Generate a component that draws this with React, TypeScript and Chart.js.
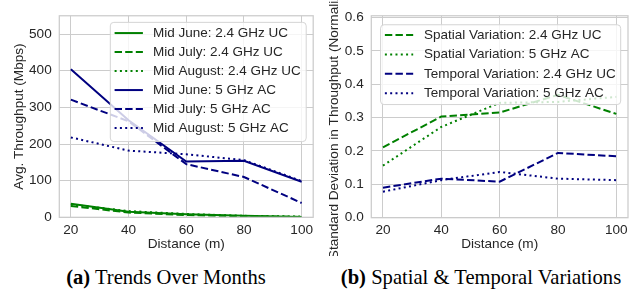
import React, { useEffect, useRef } from 'react';
import { Chart, registerables } from 'chart.js';

Chart.register(...registerables);

// ---------- data ----------
const distances = [20, 40, 60, 80, 100];
const xTicks = [20, 40, 60, 80, 100];
const leftYTicks = [0, 100, 200, 300, 400, 500];
const rightYTicks = [0, 0.1, 0.2, 0.3, 0.4, 0.5, 0.6];

const juneUC = [37, 15, 8, 4, 1];
const julyUC = [31, 13, 6, 3, 1];
const augustUC = [35, 17, 9, 4, 2];
const juneAC = [404, 265, 152, 154, 97];
const julyAC = [321, 262, 145, 110, 39];
const augustAC = [218, 182, 172, 156, 99];

const spatialUC = [0.211, 0.303, 0.315, 0.368, 0.311];
const spatialAC = [0.156, 0.272, 0.344, 0.347, 0.362];
const temporalUC = [0.09, 0.117, 0.108, 0.194, 0.184];
const temporalAC = [0.078, 0.1125, 0.137, 0.117, 0.1125];

const leftLabels = [
  'Mid June: 2.4 GHz UC',
  'Mid July: 2.4 GHz UC',
  'Mid August: 2.4 GHz UC',
  'Mid June: 5 GHz AC',
  'Mid July: 5 GHz AC',
  'Mid August: 5 GHz AC',
];
const rightLabels = [
  'Spatial Variation: 2.4 GHz UC',
  'Spatial Variation: 5 GHz AC',
  'Temporal Variation: 2.4 GHz UC',
  'Temporal Variation: 5 GHz AC',
];

// ---------- styles ----------
const GREEN = '#008000';
const NAVY = '#000080';
const SOLID: number[] = [];
const DASHED = [7.4, 3.2];
const DOTTED = [2, 3.3];
const FAMILY = '"Liberation Sans", Arial, sans-serif';
const TEXT = '#262626';
const GRID = '#cccccc';
const FS = 13.6;

type Item = { label: string; color: string; dash: number[] };

function makeDataset(label: string, values: number[], color: string, dash: number[]) {
  return {
    label,
    data: distances.map((x, i) => ({ x, y: values[i] })),
    borderColor: color,
    backgroundColor: color,
    borderWidth: 2,
    borderDash: dash,
    borderCapStyle: 'butt' as const,
    pointRadius: 0,
    tension: 0,
    fill: false,
  };
}

type Geom = {
  padTop: number;
  padRight: number;
  yWidth: number;
  xHeight: number;
  yTitlePad: number;
  legendTop: number;
  legendRight: number;
  legPadT: number;
  legPadB: number;
  legPadL: number;
  legHandle: number;
  legGap: number;
  legPadR: number;
  legRow: number;
  legFont: number;
};

function framePlugin(items: Item[], g: Geom) {
  return {
    id: 'frameLegend',
    afterDatasetsDraw(chart: any) {
      const { ctx, chartArea } = chart;
      ctx.save();
      ctx.strokeStyle = GRID;
      ctx.lineWidth = 1.25;
      ctx.setLineDash([]);
      ctx.strokeRect(
        chartArea.left,
        chartArea.top,
        chartArea.right - chartArea.left,
        chartArea.bottom - chartArea.top
      );
      // legend
      ctx.font = `${g.legFont}px ${FAMILY}`;
      const textW = Math.max(...items.map((it) => ctx.measureText(it.label).width));
      const w = g.legPadL + g.legHandle + g.legGap + textW + g.legPadR;
      const h = g.legPadT + (items.length - 1) * g.legRow + g.legPadB;
      const x0 = chartArea.right - g.legendRight - w;
      const y0 = chartArea.top + g.legendTop;
      ctx.beginPath();
      if ((ctx as any).roundRect) (ctx as any).roundRect(x0, y0, w, h, 3.5);
      else ctx.rect(x0, y0, w, h);
      ctx.fillStyle = 'rgba(255,255,255,0.8)';
      ctx.fill();
      ctx.strokeStyle = '#d4d4d4';
      ctx.lineWidth = 1;
      ctx.stroke();
      items.forEach((it, i) => {
        const cy = y0 + g.legPadT + i * g.legRow;
        ctx.beginPath();
        ctx.strokeStyle = it.color;
        ctx.lineWidth = 2;
        ctx.lineCap = 'butt';
        ctx.setLineDash(it.dash);
        ctx.moveTo(x0 + g.legPadL, cy);
        ctx.lineTo(x0 + g.legPadL + g.legHandle, cy);
        ctx.stroke();
        ctx.setLineDash([]);
        ctx.fillStyle = TEXT;
        ctx.textBaseline = 'middle';
        ctx.textAlign = 'left';
        ctx.fillText(it.label, x0 + g.legPadL + g.legHandle + g.legGap, cy);
      });
      ctx.restore();
    },
  };
}

function makeConfig(
  datasets: any[],
  items: Item[],
  yMax: number,
  yTicks: number[],
  yTitle: string,
  fmt: (v: number) => string,
  g: Geom
): any {
  return {
    type: 'line',
    data: { datasets },
    options: {
      animation: false,
      responsive: false,
      maintainAspectRatio: false,
      layout: { padding: { top: g.padTop, right: g.padRight, bottom: 0, left: 0 } },
      plugins: { legend: { display: false }, tooltip: { enabled: false } },
      scales: {
        x: {
          type: 'linear',
          min: 16,
          max: 104,
          afterBuildTicks: (axis: any) => {
            axis.ticks = xTicks.map((v) => ({ value: v }));
          },
          afterFit: (s: any) => {
            s.height = g.xHeight;
          },
          grid: { color: GRID, lineWidth: 1, drawTicks: false },
          border: { display: false },
          ticks: {
            color: TEXT,
            font: { family: FAMILY, size: FS },
            padding: 4.6,
            maxRotation: 0,
            autoSkip: false,
            callback: (v: any) => String(v),
          },
          title: {
            display: true,
            text: 'Distance (m)',
            color: TEXT,
            font: { family: FAMILY, size: FS },
            padding: { top: 0, bottom: 3.6 },
          },
        },
        y: {
          type: 'linear',
          min: 0,
          max: yMax,
          afterBuildTicks: (axis: any) => {
            axis.ticks = yTicks.map((v) => ({ value: v }));
          },
          afterFit: (s: any) => {
            s.width = g.yWidth;
          },
          grid: { color: GRID, lineWidth: 1, drawTicks: false },
          border: { display: false },
          ticks: {
            color: TEXT,
            font: { family: FAMILY, size: FS },
            padding: 7.6,
            autoSkip: false,
            callback: (v: any) => fmt(Number(v)),
          },
          title: {
            display: true,
            text: yTitle,
            color: TEXT,
            font: { family: FAMILY, size: FS },
            padding: { top: g.yTitlePad, bottom: 0 },
          },
        },
      },
    },
    plugins: [framePlugin(items, g)],
  };
}

const leftItems: Item[] = [
  { label: leftLabels[0], color: GREEN, dash: SOLID },
  { label: leftLabels[1], color: GREEN, dash: DASHED },
  { label: leftLabels[2], color: GREEN, dash: DOTTED },
  { label: leftLabels[3], color: NAVY, dash: SOLID },
  { label: leftLabels[4], color: NAVY, dash: DASHED },
  { label: leftLabels[5], color: NAVY, dash: DOTTED },
];
const leftSeries = [juneUC, julyUC, augustUC, juneAC, julyAC, augustAC];

const rightItems: Item[] = [
  { label: rightLabels[0], color: GREEN, dash: DASHED },
  { label: rightLabels[1], color: GREEN, dash: DOTTED },
  { label: rightLabels[2], color: NAVY, dash: DASHED },
  { label: rightLabels[3], color: NAVY, dash: DOTTED },
];
const rightSeries = [spatialUC, spatialAC, temporalUC, temporalAC];

const leftGeom: Geom = {
  padTop: 6.7,
  padRight: 6.8,
  yWidth: 59.3,
  xHeight: 38.7,
  yTitlePad: 11.5,
  legendTop: 6.6,
  legendRight: 7,
  legPadT: 10.7,
  legPadB: 13.5,
  legPadL: 4.3,
  legHandle: 28.3,
  legGap: 10,
  legPadR: 5.5,
  legRow: 19,
  legFont: 13.5,
};
const rightGeom: Geom = {
  padTop: 10,
  padRight: 13,
  yWidth: 51.3,
  xHeight: 38.3,
  yTitlePad: 6.5,
  legendTop: 9,
  legendRight: 7.3,
  legPadT: 10.3,
  legPadB: 11.3,
  legPadL: 4.3,
  legHandle: 28.3,
  legGap: 10.7,
  legPadR: 5,
  legRow: 19.4,
  legFont: 13.5,
};

function ChartCanvas(props: { config: () => any; left: number; width: number; height: number }) {
  const ref = useRef<HTMLCanvasElement | null>(null);
  useEffect(() => {
    if (!ref.current) return;
    const chart = new Chart(ref.current, props.config());
    return () => chart.destroy();
  }, []);
  return (
    <canvas
      ref={ref}
      width={props.width}
      height={props.height}
      style={{
        position: 'absolute',
        left: props.left,
        top: 0,
        width: props.width,
        height: props.height,
      }}
    />
  );
}

const captionStyle: React.CSSProperties = {
  position: 'absolute',
  top: 267,
  fontFamily: '"Liberation Serif", "Times New Roman", serif',
  fontSize: 20.6,
  lineHeight: '20px',
  color: '#000',
  textAlign: 'center',
  whiteSpace: 'nowrap',
};

export default function App() {
  const leftConfig = () =>
    makeConfig(
      leftItems.map((it, i) => makeDataset(it.label, leftSeries[i], it.color, it.dash)),
      leftItems,
      550,
      leftYTicks,
      'Avg. Throughput (Mbps)',
      (v) => String(Math.round(v)),
      leftGeom
    );
  const rightConfig = () =>
    makeConfig(
      rightItems.map((it, i) => makeDataset(it.label, rightSeries[i], it.color, it.dash)),
      rightItems,
      0.605,
      rightYTicks,
      'Standard Deviation in Throughput (Normalized)',
      (v) => v.toFixed(1),
      rightGeom
    );
  return (
    <div
      style={{
        position: 'absolute',
        left: 0,
        top: 0,
        width: 641,
        height: 296,
        background: '#fff',
        overflow: 'hidden',
      }}
    >
      <ChartCanvas config={leftConfig} left={0} width={320} height={256} />
      <ChartCanvas config={rightConfig} left={320} width={321} height={256} />
      <div style={{ ...captionStyle, left: 0, width: 332 }}>
        <b>(a)</b> Trends Over Months
      </div>
      <div style={{ ...captionStyle, left: 320, width: 322 }}>
        <b>(b)</b> Spatial &amp; Temporal Variations
      </div>
    </div>
  );
}
